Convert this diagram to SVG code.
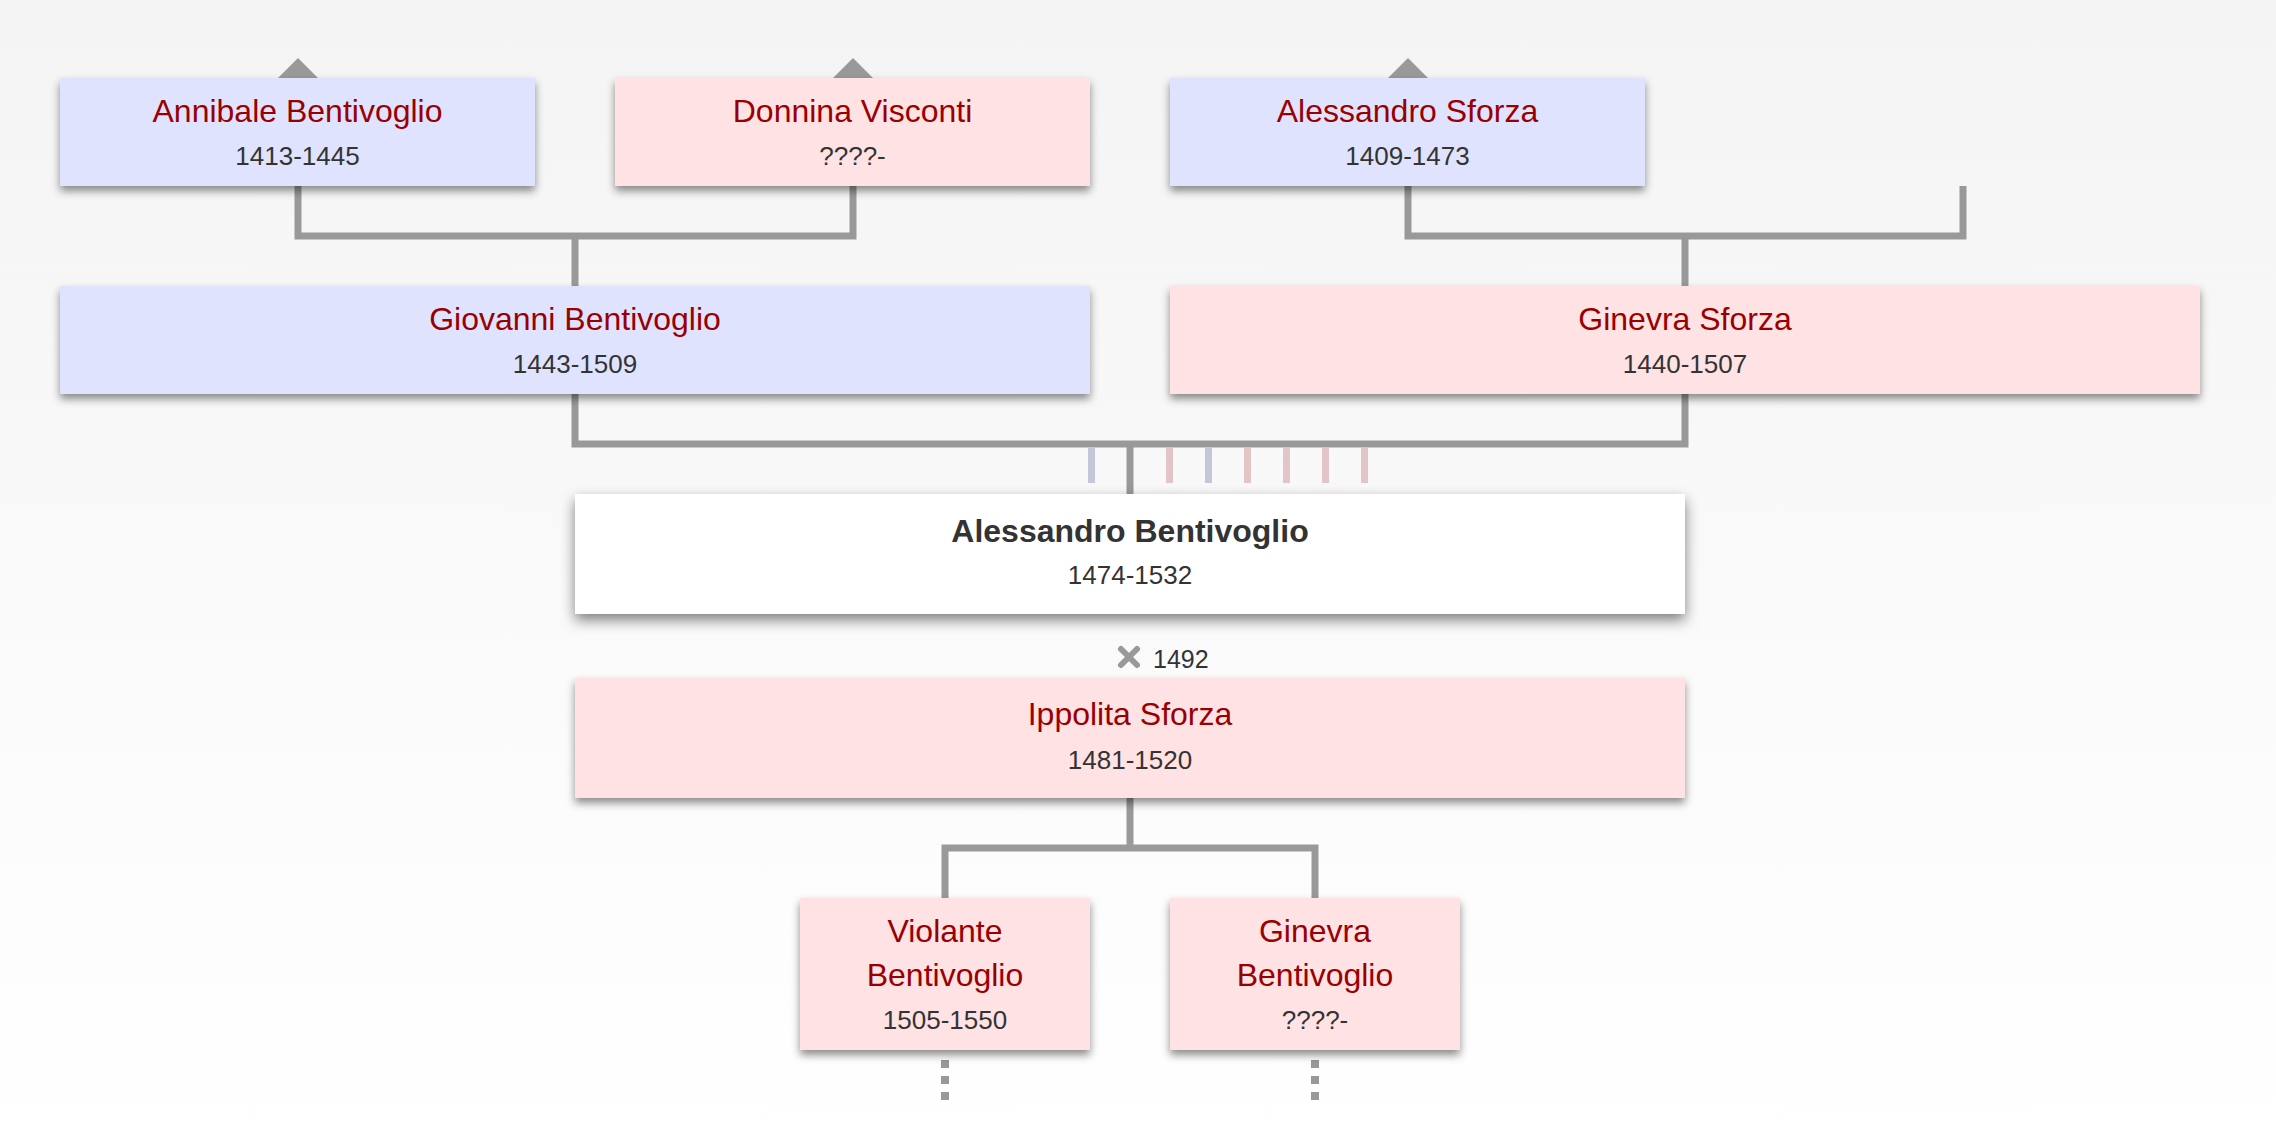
<svg xmlns="http://www.w3.org/2000/svg" width="2276" height="1148" viewBox="0 0 2276 1148">
<style>
.box{stroke:none}
.m{fill:#e0e3fd}
.f{fill:#ffe2e4}
.focus{fill:#ffffff}
.name{font-family:"Liberation Sans",Arial,Helvetica,sans-serif;font-size:32px;fill:#990000;text-anchor:middle}
.fname{font-family:"Liberation Sans",Arial,Helvetica,sans-serif;font-size:32px;font-weight:bold;fill:#333333;text-anchor:middle}
.date{font-family:"Liberation Sans",Arial,Helvetica,sans-serif;font-size:26px;fill:#333333;text-anchor:middle}
.wed{font-family:"Liberation Sans",Arial,Helvetica,sans-serif;font-size:25px;fill:#333333}
.link{fill:none;stroke:#999999;stroke-width:7}
.dots{fill:none;stroke:#999999;stroke-width:8;stroke-dasharray:8 8}
.tb{stroke:#c4c6da;stroke-width:7}
.tp{stroke:#e4c5c7;stroke-width:7}
.tri{fill:#999999}
</style>
<defs>
<linearGradient id="bg" x1="0" y1="0" x2="0" y2="1">
<stop offset="0" stop-color="#f4f4f4"/>
<stop offset="1" stop-color="#ffffff"/>
</linearGradient>
<filter id="sh" x="-5%" y="-20%" width="110%" height="150%">
<feDropShadow dx="0" dy="5" stdDeviation="4" flood-color="#000" flood-opacity="0.45"/>
</filter>
<filter id="shf" x="-5%" y="-20%" width="110%" height="150%">
<feDropShadow dx="0" dy="6" stdDeviation="7" flood-color="#000" flood-opacity="0.5"/>
</filter>
</defs>
<rect x="0" y="0" width="2276" height="1148" fill="url(#bg)"/>

<g id="connectors">
<path class="link" d="M298 186 V236 H853 V186 M575 236 V286"/>
<path class="link" d="M1408 186 V236 H1963 V186 M1685 236 V286"/>
<path class="link" d="M575 394 V444 H1685 V394 M1130 444 V494"/>
<path class="link" d="M1130 798 V848 H945 V898 M1130 848 H1315 V898"/>
<path class="dots" d="M945 1060 V1100"/>
<path class="dots" d="M1315 1060 V1100"/>
<line class="tb" x1="1091.5" y1="448" x2="1091.5" y2="483"/>
<line class="tp" x1="1169.5" y1="448" x2="1169.5" y2="483"/>
<line class="tb" x1="1208.5" y1="448" x2="1208.5" y2="483"/>
<line class="tp" x1="1247.5" y1="448" x2="1247.5" y2="483"/>
<line class="tp" x1="1286.5" y1="448" x2="1286.5" y2="483"/>
<line class="tp" x1="1325.5" y1="448" x2="1325.5" y2="483"/>
<line class="tp" x1="1364.5" y1="448" x2="1364.5" y2="483"/>
<polygon class="tri" points="298,58 278,78 318,78"/>
<polygon class="tri" points="853,58 833,78 873,78"/>
<polygon class="tri" points="1408,58 1388,78 1428,78"/>
</g>

<g id="annibale">
<rect class="box m" x="60" y="78" width="475" height="108" filter="url(#sh)"/>
<text class="name" x="297.5" y="122">Annibale Bentivoglio</text>
<text class="date" x="297.5" y="165">1413-1445</text>
</g>
<g id="donnina">
<rect class="box f" x="615" y="78" width="475" height="108" filter="url(#sh)"/>
<text class="name" x="852.5" y="122">Donnina Visconti</text>
<text class="date" x="852.5" y="165">????-</text>
</g>
<g id="alessandro-sforza">
<rect class="box m" x="1170" y="78" width="475" height="108" filter="url(#sh)"/>
<text class="name" x="1407.5" y="122">Alessandro Sforza</text>
<text class="date" x="1407.5" y="165">1409-1473</text>
</g>
<g id="giovanni">
<rect class="box m" x="60" y="286" width="1030" height="108" filter="url(#sh)"/>
<text class="name" x="575" y="330">Giovanni Bentivoglio</text>
<text class="date" x="575" y="373">1443-1509</text>
</g>
<g id="ginevra-sforza">
<rect class="box f" x="1170" y="286" width="1030" height="108" filter="url(#sh)"/>
<text class="name" x="1685" y="330">Ginevra Sforza</text>
<text class="date" x="1685" y="373">1440-1507</text>
</g>
<g id="alessandro-bentivoglio">
<rect class="box focus" x="575" y="494" width="1110" height="120" filter="url(#shf)"/>
<text class="fname" x="1130" y="542">Alessandro Bentivoglio</text>
<text class="date" x="1130" y="584">1474-1532</text>
</g>
<g id="marriage">
<path d="M1121 649 L1137 665 M1137 649 L1121 665" stroke="#999999" stroke-width="6" stroke-linecap="round" fill="none"/>
<text class="wed" x="1153" y="668">1492</text>
</g>
<g id="ippolita">
<rect class="box f" x="575" y="678" width="1110" height="120" filter="url(#sh)"/>
<text class="name" x="1130" y="725">Ippolita Sforza</text>
<text class="date" x="1130" y="769">1481-1520</text>
</g>
<g id="violante">
<rect class="box f" x="800" y="898" width="290" height="152" filter="url(#sh)"/>
<text class="name" x="945" y="942">Violante</text>
<text class="name" x="945" y="986">Bentivoglio</text>
<text class="date" x="945" y="1029">1505-1550</text>
</g>
<g id="ginevra-bentivoglio">
<rect class="box f" x="1170" y="898" width="290" height="152" filter="url(#sh)"/>
<text class="name" x="1315" y="942">Ginevra</text>
<text class="name" x="1315" y="986">Bentivoglio</text>
<text class="date" x="1315" y="1029">????-</text>
</g>
</svg>
